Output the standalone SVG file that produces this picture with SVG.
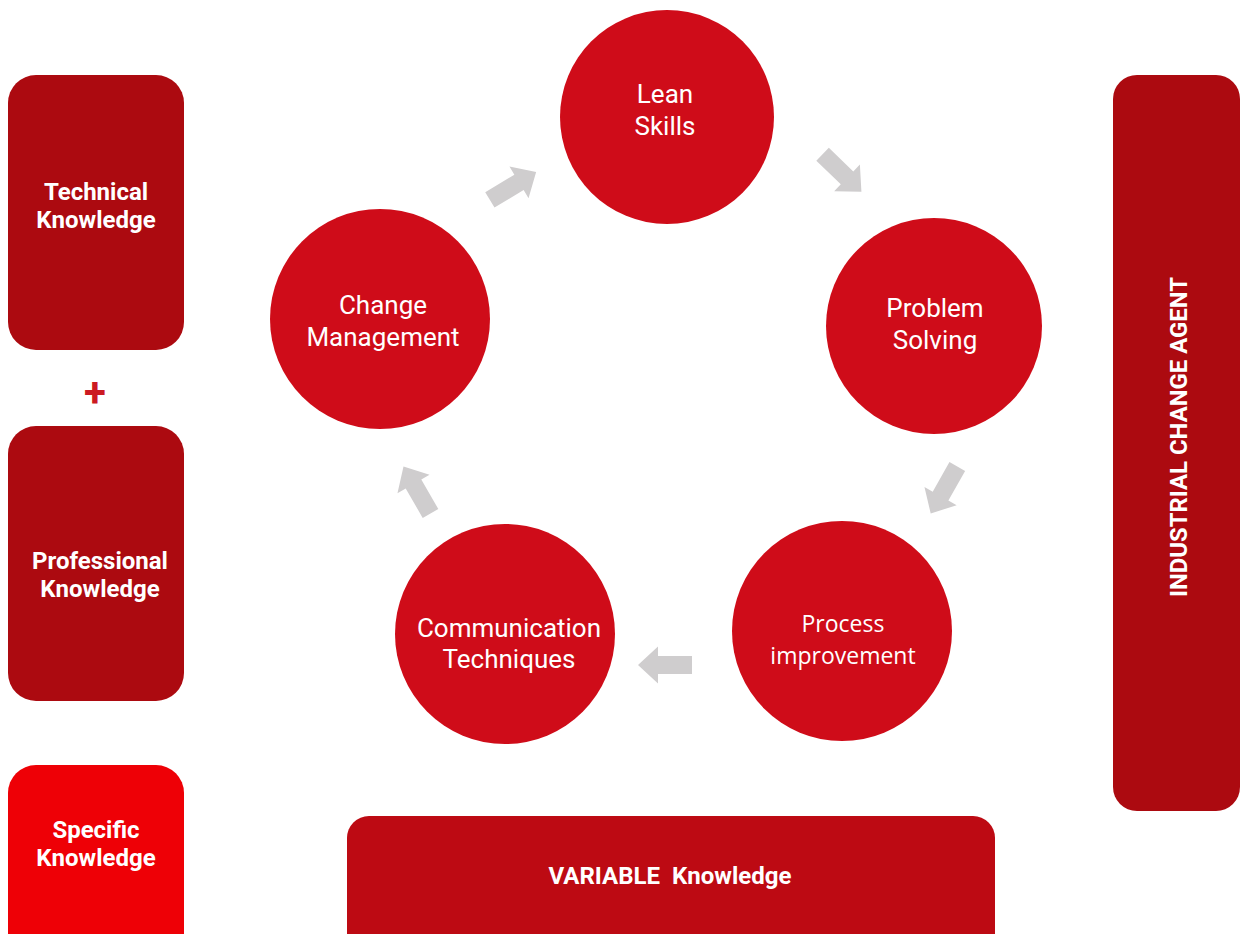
<svg xmlns="http://www.w3.org/2000/svg" width="1245" height="934" viewBox="0 0 1245 934">
<style>
.box{fill:#ac0a10}
.circ{fill:#cf0c19}
.arr{fill:#cfcdce}
.bt{font-family:Roboto,"Liberation Sans",sans-serif;font-weight:bold;font-size:24px;fill:#fff;text-anchor:middle}
.ct{font-family:Roboto,"Liberation Sans",sans-serif;font-size:26px;fill:#fff;text-anchor:middle}
.pt{font-family:"Open Sans","Liberation Sans",sans-serif;font-size:23px;fill:#fff;text-anchor:middle}
</style>
<defs>
<path id="arrow" d="M -27 -9 H 7 V -18.5 L 27 0 L 7 18.5 V 9 H -27 Z"/>
</defs>
<rect width="1245" height="934" fill="#fff"/>
<g id="technical"><rect class="box" x="8" y="75" width="176" height="275" rx="28"/><text class="bt" x="96" y="200">Technical</text><text class="bt" x="96" y="228">Knowledge</text></g>
<g id="plus"><text x="95" y="406" font-family="Roboto,'Liberation Sans',sans-serif" font-weight="bold" font-size="40" fill="#cc1a22" text-anchor="middle">+</text></g>
<g id="professional"><rect class="box" x="8" y="426" width="176" height="275" rx="28"/><text class="bt" x="100" y="569">Professional</text><text class="bt" x="100" y="597">Knowledge</text></g>
<g id="specific"><rect x="8" y="765" width="176" height="200" rx="28" fill="#ee0006"/><text class="bt" x="96" y="838">Specific</text><text class="bt" x="96" y="866">Knowledge</text></g>
<g id="agent"><rect class="box" x="1113" y="75" width="127" height="736" rx="24"/><text class="bt" transform="translate(1187,437) rotate(-90)" x="0" y="0" font-size="27" textLength="320" lengthAdjust="spacingAndGlyphs">INDUSTRIAL CHANGE AGENT</text></g>
<g id="variable"><rect x="347" y="816" width="648" height="150" rx="22" fill="#bd0a13"/><text class="bt" x="670" y="884" font-size="25" textLength="243" lengthAdjust="spacingAndGlyphs" xml:space="preserve">VARIABLE  Knowledge</text></g>
<g id="lean"><circle class="circ" cx="667" cy="117" r="107"/><text class="ct" x="665" y="103">Lean</text><text class="ct" x="665" y="135">Skills</text></g>
<g id="problem"><circle class="circ" cx="934" cy="326" r="108"/><text class="ct" x="935" y="317">Problem</text><text class="ct" x="935" y="349">Solving</text></g>
<g id="process"><circle class="circ" cx="842" cy="631" r="110"/><text class="pt" x="843" y="632">Process</text><text class="pt" x="843" y="664">improvement</text></g>
<g id="communication"><circle class="circ" cx="505" cy="634" r="110"/><text class="ct" x="509" y="637">Communication</text><text class="ct" x="509" y="668">Techniques</text></g>
<g id="change"><circle class="circ" cx="380" cy="319" r="110"/><text class="ct" x="383" y="314">Change</text><text class="ct" x="383" y="346">Management</text></g>
<g id="connectors">
<use href="#arrow" class="arr" transform="translate(513,186) rotate(-31)"/>
<use href="#arrow" class="arr" transform="translate(842,173) rotate(44)"/>
<use href="#arrow" class="arr" transform="translate(944,490) rotate(119.5)"/>
<use href="#arrow" class="arr" transform="translate(665,665) rotate(180)"/>
<use href="#arrow" class="arr" transform="translate(417,490) rotate(-120)"/>
</g>
</svg>
